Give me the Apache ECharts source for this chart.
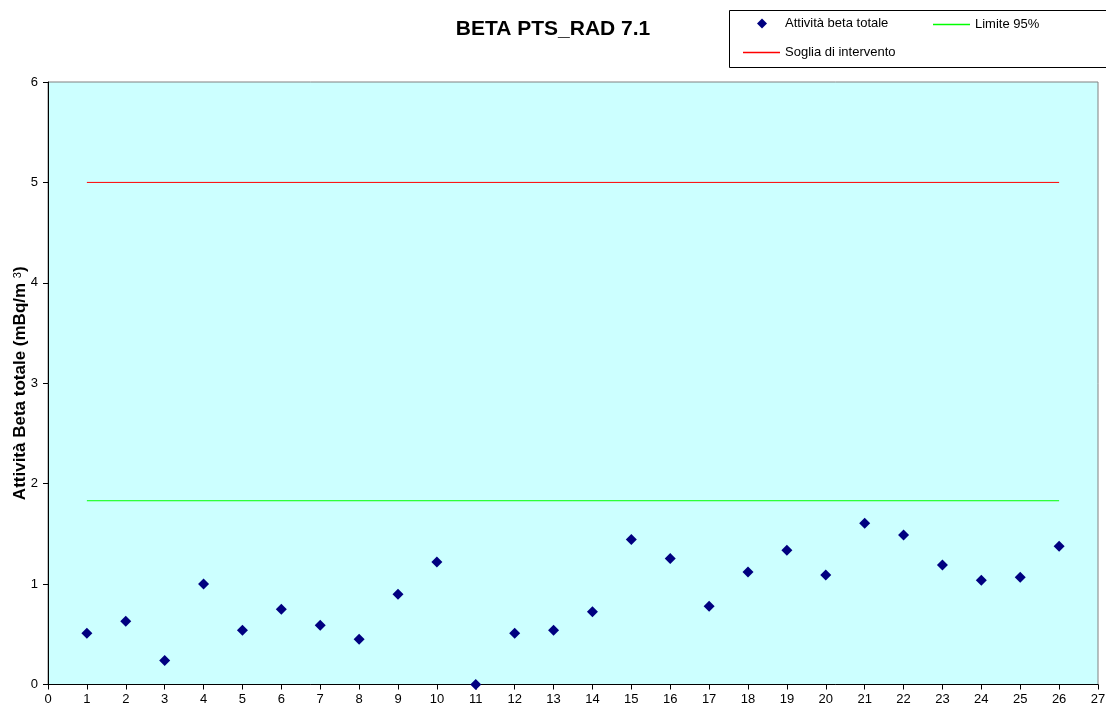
<!DOCTYPE html>
<html>
<head>
<meta charset="utf-8">
<script src="https://cdn.jsdelivr.net/npm/echarts@6/dist/echarts.min.js"></script>
<style>
html,body{margin:0;padding:0;background:#fff;}
#c{width:1106px;height:712px;}
</style>
</head>
<body>
<div id="c"></div>
<script>
const samples = [1,2,3,4,5,6,7,8,9,10,11,12,13,14,15,16,17,18,19,20,21,22,23,24,25,26];
const betaValues = [0.51,0.63,0.24,1.00,0.54,0.75,0.59,0.45,0.90,1.22,0.00,0.51,0.54,0.725,1.445,1.256,0.78,1.12,1.336,1.09,1.607,1.488,1.19,1.037,1.067,1.378];
const limit95 = 1.83;
const interventionThreshold = 5;
const seriesNames = ['Attività beta totale','Limite 95%','Soglia di intervento'];

const chart = echarts.init(document.getElementById('c'), null, {renderer:'canvas'});
const font = 'Liberation Sans, Arial, sans-serif';
const first = samples[0], last = samples[samples.length-1];
const legText = {fontFamily:font,fontSize:13,color:'#000'};

chart.setOption({
  animation:false,
  backgroundColor:'#ffffff',
  title:{
    text:'BETA PTS_RAD 7.1',
    left:'center',
    top:14,
    textStyle:{fontFamily:font,fontSize:21,fontWeight:'bold',color:'#000'}
  },
  graphic:[{
    type:'rect',
    shape:{x:729.5,y:10.5,width:400,height:57},
    style:{fill:'#fff',stroke:'#000',lineWidth:1},
    z:-1
  }],
  legend:[
    {data:[{name:seriesNames[0],icon:'diamond',itemStyle:{color:'#000080',opacity:1}}],
     left:752,top:12,itemWidth:10,itemHeight:10,selectedMode:false,
     textStyle:Object.assign({padding:[0,0,0,13]},legText)},
    {data:[{name:seriesNames[1],icon:'rect',itemStyle:{color:'#00FF00'}}],
     left:928,top:13,itemWidth:37,itemHeight:1.5,selectedMode:false,
     inactiveColor:'#00FF00',textStyle:Object.assign({padding:[0,0,0,0]},legText)},
    {data:[{name:seriesNames[2],icon:'rect',itemStyle:{color:'#FF0000'}}],
     left:738,top:41,itemWidth:37,itemHeight:1.5,selectedMode:false,
     inactiveColor:'#FF0000',textStyle:Object.assign({padding:[0,0,0,0]},legText)}
  ],
  grid:{
    left:48,top:82,right:8,bottom:27.5,outerBoundsMode:'none',
    show:true,backgroundColor:'#CCFFFF',borderColor:'#808080',borderWidth:1
  },
  xAxis:{
    type:'value',min:0,max:27,interval:1,
    axisLine:{show:true,onZero:false,lineStyle:{color:'#000',width:1}},
    axisTick:{show:true,length:5,lineStyle:{color:'#000'}},
    axisLabel:{fontFamily:font,fontSize:13,color:'#000',margin:8},
    splitLine:{show:false}
  },
  yAxis:{
    type:'value',min:0,max:6,interval:1,
    name:'Attività Beta totale (mBq/m {sup|3})',
    nameLocation:'middle',nameGap:19,nameRotate:90,nameMoveOverlap:false,
    nameTextStyle:{fontFamily:font,fontSize:17,fontWeight:'bold',color:'#000',
      rich:{sup:{fontFamily:font,fontSize:11,fontWeight:'normal',color:'#000',verticalAlign:'top',padding:[0,0,6,0]}}},
    axisLine:{show:true,lineStyle:{color:'#000',width:1}},
    axisTick:{show:true,length:5,lineStyle:{color:'#000'}},
    axisLabel:{fontFamily:font,fontSize:13,color:'#000',margin:10},
    splitLine:{show:false}
  },
  series:[
    {
      name:seriesNames[0],type:'scatter',symbol:'diamond',symbolSize:11,
      itemStyle:{color:'#000080',opacity:1},
      data:samples.map((s,i)=>[s,betaValues[i]]),z:5
    },
    {
      name:seriesNames[1],type:'line',showSymbol:false,symbol:'none',
      lineStyle:{color:'#00FF00',width:1},itemStyle:{color:'#00FF00'},
      data:[[first,limit95],[last,limit95]],z:3
    },
    {
      name:seriesNames[2],type:'line',showSymbol:false,symbol:'none',
      lineStyle:{color:'#FF0000',width:1},itemStyle:{color:'#FF0000'},
      data:[[first,interventionThreshold],[last,interventionThreshold]],z:3
    }
  ]
});
</script>
</body>
</html>
